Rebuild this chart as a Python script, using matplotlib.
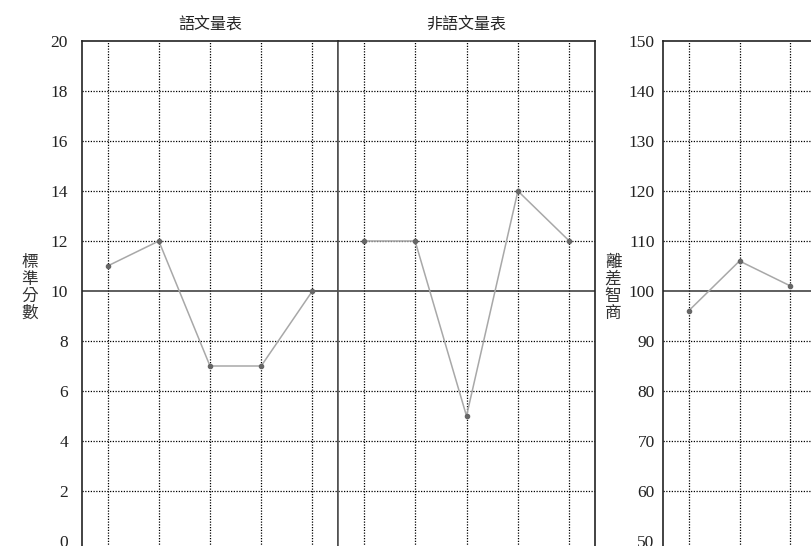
import matplotlib
matplotlib.use("Agg")
import matplotlib.pyplot as plt

plt.rcParams['font.family'] = ['Noto Sans CJK TC', 'DejaVu Sans']

# ---- data ----
verbal_title = "語文量表"
nonverbal_title = "非語文量表"
verbal_scores = [11, 12, 7, 7, 10]
nonverbal_scores = [12, 12, 5, 14, 12]
iq_scores = [96, 106, 101]
scaled_ticks = [0, 2, 4, 6, 8, 10, 12, 14, 16, 18, 20]
iq_ticks = [50, 60, 70, 80, 90, 100, 110, 120, 130, 140, 150]
scaled_label = "標準分數"
iq_label = "離差智商"

W, H = 811, 546
fig = plt.figure(figsize=(W / 100, H / 100), dpi=100)
fig.patch.set_facecolor('white')

def fx(px):
    return px / W

def fy(py):
    return 1 - py / H

top_px = 41
bot_px = 566  # below the visible picture
serif = ['Liberation Serif', 'DejaVu Serif']
grid_kw = dict(color='black', linewidth=0.9, linestyle=(0, (1, 1.2)), zorder=1)
line_kw = dict(color='#a8a8a8', linewidth=1.1, marker='o', markersize=3.0,
               markerfacecolor='#666666', markeredgecolor='#666666', zorder=3)


def make_panel(x0, x1, ylim, yticks, ref, values, title=None, show_ticks=True, pad=10):
    ax = fig.add_axes([fx(x0), fy(bot_px), fx(x1 - x0), (bot_px - top_px) / H])
    n = len(values) if len(values) > 0 else 3
    ax.set_xlim(-0.5, n - 0.5)
    ax.set_ylim(*ylim)
    for i in range(n):
        ax.axvline(i, **grid_kw)
    for t in yticks:
        if t == ref:
            ax.axhline(t, color='#333333', linewidth=1.1, zorder=2)
        elif t != yticks[0] and t != yticks[-1]:
            ax.axhline(t, **grid_kw)
    ax.plot(range(len(values)), values, **line_kw)
    ax.set_xticks([])
    if show_ticks:
        ax.set_yticks(yticks)
        ax.set_yticklabels([str(t) for t in yticks], family=serif, fontsize=12.5, color='#222222')
        ax.tick_params(axis='y', length=0, pad=pad)
    else:
        ax.set_yticks([])
    for s in ax.spines.values():
        s.set_color('#222222')
        s.set_linewidth(1.2)
    ax.spines['bottom'].set_visible(False)
    if title:
        ax.set_title(title, fontsize=11.5, pad=8, color='#222222')
    return ax

ax1 = make_panel(82, 338, (-1, 20), scaled_ticks, 10, verbal_scores, verbal_title, True, pad=10)
ax2 = make_panel(338, 595, (-1, 20), scaled_ticks, 10, nonverbal_scores, nonverbal_title, False)
ax2.spines['left'].set_color('#555555')
ax3 = make_panel(663, 816, (45, 150), iq_ticks, 100, iq_scores, None, True, pad=6)

fig.text(fx(30), fy(288), "\n".join(scaled_label), ha='center', va='center',
         fontsize=12, linespacing=1.0, color='#333333')
fig.text(fx(613), fy(288), "\n".join(iq_label), ha='center', va='center',
         fontsize=12, linespacing=1.0, color='#333333')

fig.savefig("out.png", dpi=100, facecolor='white')
